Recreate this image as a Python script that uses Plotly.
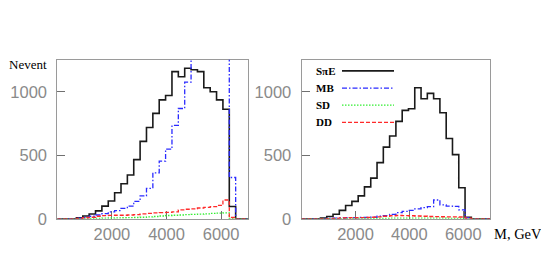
import plotly.graph_objects as go

# ---------------- data ----------------
n_bins = 30
m_min, m_max = 0, 7000
bin_width = (m_max - m_min) / n_bins
edges = [m_min + i * bin_width for i in range(n_bins + 1)]

series_names = ["S\u03c0E", "MB", "SD", "DD"]

# left panel
left_spe = [0, 0, 0, 8, 22, 38, 62, 100, 140, 205, 276, 345, 466, 609, 718,
            830, 936, 970, 1158, 1118, 1185, 1173, 1158, 1031, 1000, 936, 862, 97, 0, 0]
left_mb = [0, 0, 2, 5, 10, 20, 30, 40, 55, 65, 82, 100, 137, 180, 239,
           362, 454, 548, 735, 868, 1076, 1400, 1450, 1420, 1390, 1360, 1320, 325, 0, 0]
left_sd = [0, 0, 0, 1, 2, 3, 4, 5, 6, 7, 8, 9, 10, 12, 15,
           18, 22, 26, 28, 30, 32, 34, 36, 38, 42, 45, 46, 3, 0, 0]
left_dd = [0, 0, 0, 3, 8, 12, 20, 25, 27, 28, 28, 30, 32, 38, 42,
           46, 48, 50, 55, 70, 75, 78, 85, 90, 95, 105, 148, 10, 0, 0]

# right panel
right_spe = [0, 0, 0, 5, 18, 36, 66, 104, 137, 180, 251, 320, 442, 564, 652,
             767, 853, 866, 1031, 945, 987, 945, 835, 632, 505, 244, 12, 0, 0, 0]
right_mb = [0, 0, 0, 0, 3, 5, 6, 8, 8, 10, 10, 12, 20, 25, 35,
            48, 58, 66, 78, 88, 95, 148, 110, 100, 97, 70, 8, 0, 0, 0]
right_sd = [0, 0, 0, 0, 1, 1, 2, 2, 3, 3, 3, 4, 4, 4, 5,
            5, 5, 5, 5, 5, 5, 5, 5, 4, 4, 4, 1, 0, 0, 0]
right_dd = [0, 0, 0, 0, 2, 4, 6, 8, 8, 9, 10, 12, 15, 20, 24,
            26, 25, 24, 22, 20, 18, 17, 16, 15, 15, 14, 5, 0, 0, 0]

x_ticks = [2000, 4000, 6000]
y_ticks = [0, 500, 1000]
y_max = 1252

# ---------------- styles ----------------
styles = {
    "S\u03c0E": dict(color="#1a1a1a", width=1.6, dash="solid"),
    "MB": dict(color="#2a2aff", width=1.3, dash="5px,2px,1.5px,2px"),
    "SD": dict(color="#33ee33", width=1.3, dash="1.5px,1.5px"),
    "DD": dict(color="#ff2a2a", width=1.3, dash="4px,2px"),
}

fig = go.Figure()

panels = [
    ("x", "y", [left_spe, left_mb, left_sd, left_dd]),
    ("x2", "y2", [right_spe, right_mb, right_sd, right_dd]),
]
for xa, ya, vals in panels:
    for name, v in zip(series_names, vals):
        fig.add_trace(go.Scatter(
            x=edges, y=list(v) + [v[-1]], mode="lines",
            line=dict(shape="hv", **styles[name]),
            xaxis=xa, yaxis=ya, showlegend=False, hoverinfo="skip"))

# the page body adds a horizontal 8px offset; positions below are in window pixels
OFFX = 8
W, H = 549 - OFFX, 272
def px(x):
    return (x - OFFX) / W
def py(y):
    return 1 - y / H

axis_common = dict(
    showline=True, mirror=True, linecolor="#9a9a9a", linewidth=1,
    showgrid=False, zeroline=False, ticks="inside", ticklen=8,
    tickcolor="#707070", tickwidth=1,
    tickfont=dict(family="Liberation Sans, Arial, sans-serif", size=16.5, color="#8a8a8a"),
    layer="below traces",
)

ydom = [py(218), py(53.5)]
fig.update_layout(
    width=W, height=H,
    margin=dict(l=0, r=0, t=0, b=0),
    paper_bgcolor="white", plot_bgcolor="white",
    xaxis=dict(domain=[px(57.3), px(248.4)], range=[m_min, m_max],
               tickvals=x_ticks, anchor="y", **axis_common),
    yaxis=dict(domain=ydom, range=[0, y_max], tickvals=y_ticks, anchor="x",
               ticklabelstandoff=6, **axis_common),
    xaxis2=dict(domain=[px(301.6), px(490.2)], range=[m_min, m_max],
                tickvals=x_ticks, anchor="y2", **axis_common),
    yaxis2=dict(domain=ydom, range=[0, y_max], tickvals=y_ticks, anchor="x2",
                ticklabelstandoff=6, **axis_common),
)

serif = "Liberation Serif, Times New Roman, serif"
annotations = [
    dict(text="Nevent", x=px(7), y=py(58), xref="paper", yref="paper",
         xanchor="left", yanchor="middle", showarrow=False,
         font=dict(family=serif, size=13, color="black")),
    dict(text="M, GeV", x=px(544), y=py(233.5), xref="paper", yref="paper",
         xanchor="right", yanchor="middle", showarrow=False,
         font=dict(family=serif, size=14.5, color="black")),
]
shapes = []
legend_rows = [65, 82.8, 100.5, 118.3]
for name, yr in zip(series_names, legend_rows):
    annotations.append(dict(
        text="<b>%s</b>" % name, x=px(314), y=py(yr), xref="paper", yref="paper",
        xanchor="left", yanchor="middle", showarrow=False,
        font=dict(family=serif, size=11, color="black")))
    st = styles[name]
    shapes.append(dict(type="line", xref="paper", yref="paper",
                       x0=px(342), x1=px(394), y0=py(yr), y1=py(yr),
                       line=dict(color=st["color"], width=st["width"], dash=st["dash"])))
fig.update_layout(annotations=annotations, shapes=shapes)

fig.write_html("out.html")
